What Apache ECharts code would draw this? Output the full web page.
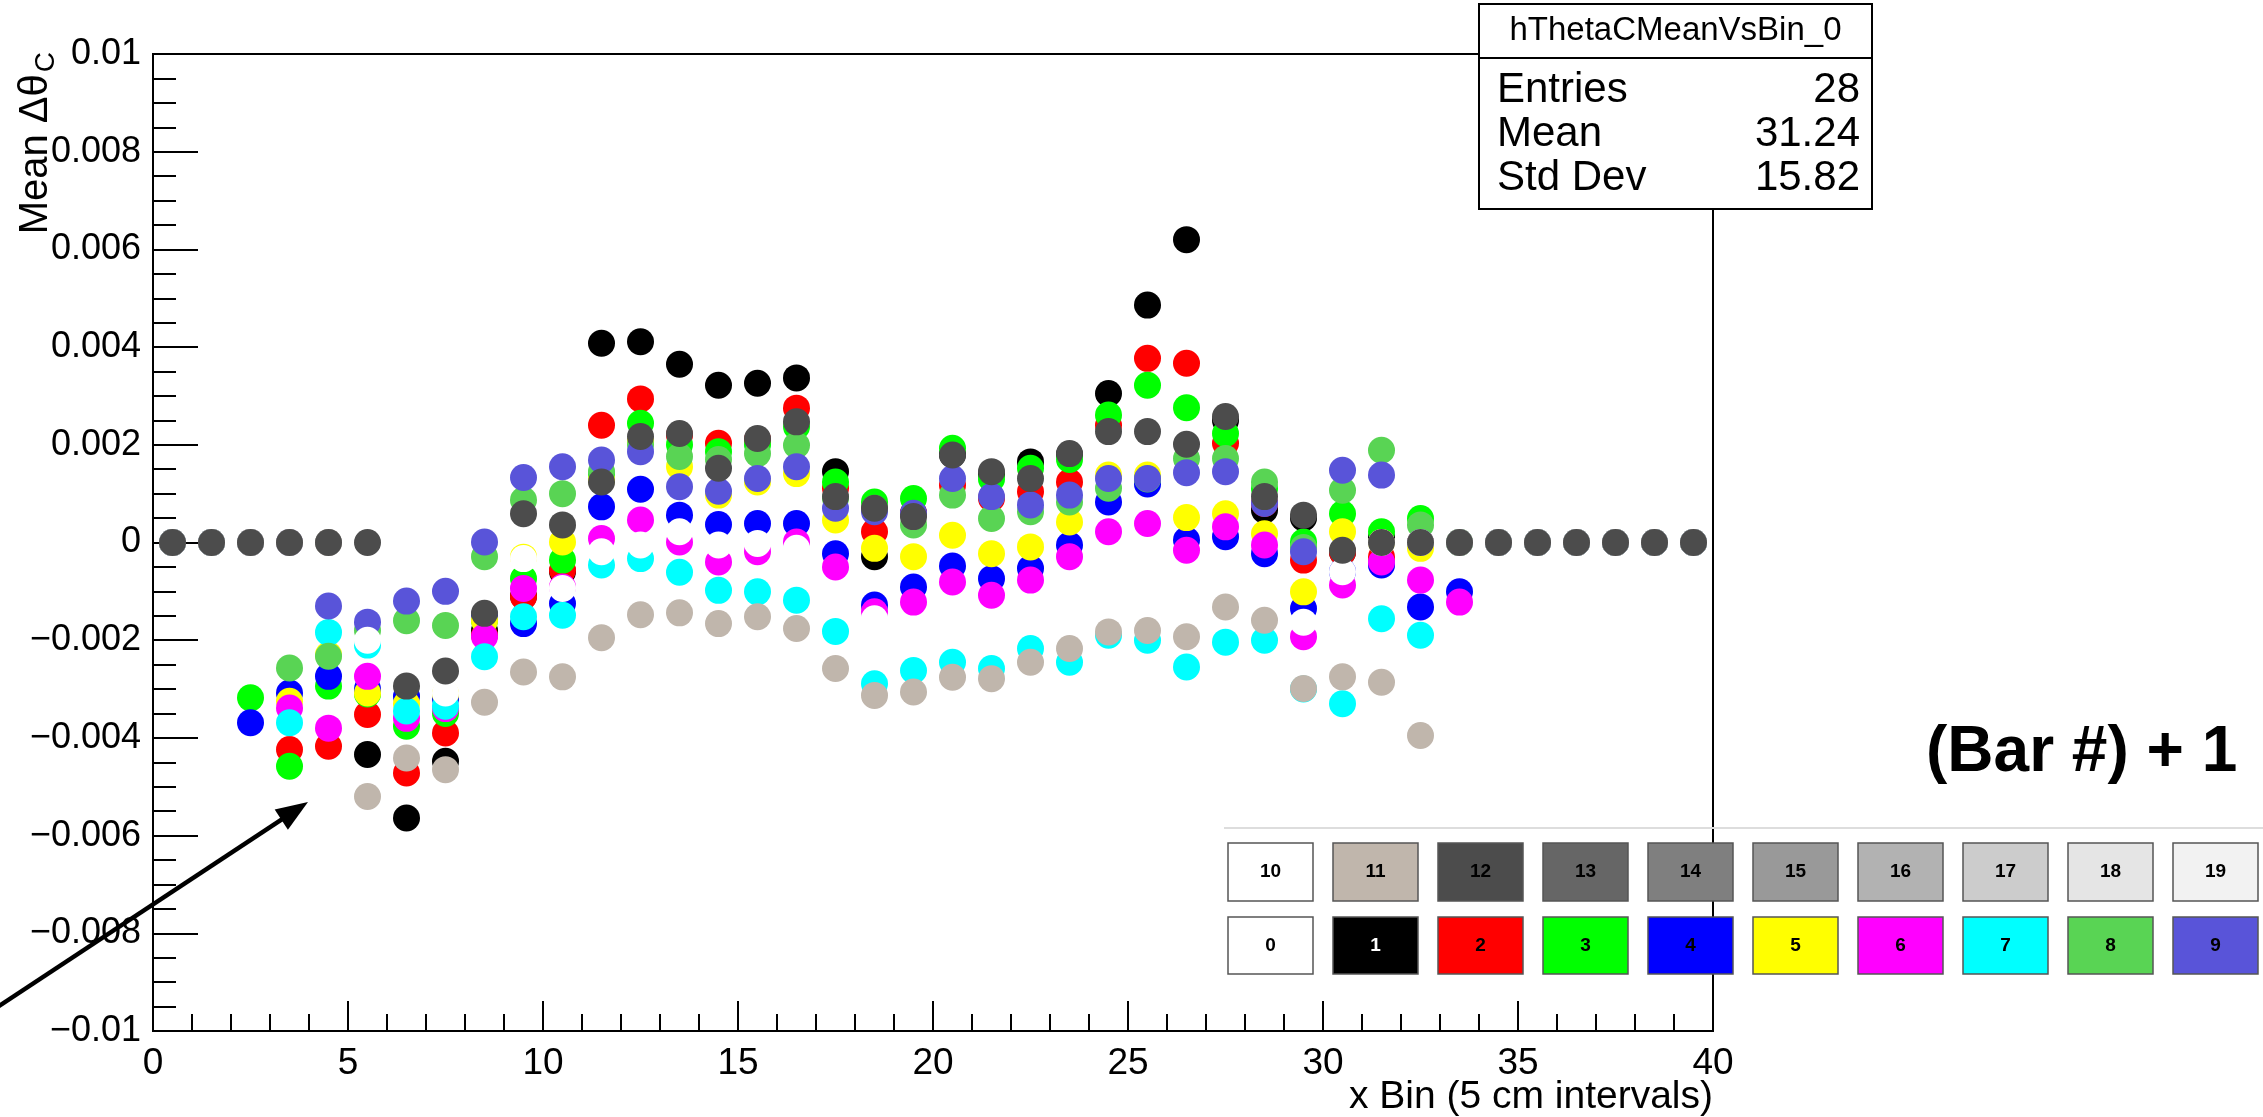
<!DOCTYPE html>
<html>
<head>
<meta charset="utf-8">
<script src="https://cdn.jsdelivr.net/npm/echarts@6/dist/echarts.min.js"></script>
<style>
html,body{margin:0;padding:0;background:#fff;}
#c{width:2263px;height:1117px;}
</style>
</head>
<body>
<div id="c"></div>
<script>
// ---- data ----
const xBins = [0.5,1.5,2.5,3.5,4.5,5.5,6.5,7.5,8.5,9.5,10.5,11.5,12.5,13.5,14.5,15.5,16.5,17.5,18.5,19.5,20.5,21.5,22.5,23.5,24.5,25.5,26.5,27.5,28.5,29.5,30.5,31.5,32.5,33.5,34.5,35.5,36.5,37.5,38.5,39.5];

const bar0 = [0,0,0,0,0,-0.00434,-0.00564,-0.00448,-0.0018,-0.0011,-0.0006,0.00408,0.00411,0.00365,0.00322,0.00326,0.00337,0.00145,-0.00029,0.0006,0.0018,0.0014,0.00165,0.0018,0.00305,0.00486,0.0062,0.0025,0.00066,0.0005,-0.0002,0.0001,0,0,0,0,0,0,0,0];
const bar1 = [0,0,0,-0.00424,-0.00417,-0.00352,-0.00472,-0.0039,-0.0019,-0.00111,-0.00057,0.0024,0.00294,0.0022,0.00203,0.0021,0.00275,0.00111,0.00022,0.0006,0.00117,0.0009,0.00104,0.00124,0.0024,0.00377,0.00367,0.00203,0.0008,-0.00036,-0.0002,-0.0003,0,0,0,0,0,0,0,0];
const bar2 = [0,0,-0.00318,-0.00458,-0.00294,-0.0031,-0.00376,-0.0035,-0.0016,-0.00074,-0.00036,0.0014,0.00244,0.002,0.00186,0.002,0.00237,0.00124,0.00083,0.0009,0.00193,0.0013,0.00152,0.0017,0.00261,0.00322,0.00276,0.00223,0.0011,0.00001,0.00059,0.00022,0.00049,0,0,0,0,0,0,0];
const bar3 = [0,0,-0.00369,-0.00308,-0.00274,-0.003,-0.00315,-0.0032,-0.0015,-0.00166,-0.00125,0.00073,0.00109,0.00056,0.00037,0.00039,0.00039,-0.00023,-0.00128,-0.00091,-0.00048,-0.00074,-0.00053,-0.00005,0.00083,0.0012,0.00005,0.00012,-0.00023,-0.00135,-0.0006,-0.00046,-0.00132,-0.00101,0,0,0,0,0,0];
const bar4 = [0,0,0,-0.00325,-0.0023,-0.00308,-0.0033,-0.0031,-0.0016,-0.0003,0.00001,0.00128,0.00206,0.00155,0.00097,0.00124,0.00141,0.00046,-0.00012,-0.00029,0.00015,-0.00023,-0.00009,0.00042,0.00138,0.00138,0.00051,0.00059,0.00018,-0.00101,0.00022,0,-0.00012,0,0,0,0,0,0,0];
const bar5 = [0,0,0,-0.00339,-0.0038,-0.00274,-0.0036,-0.0034,-0.00193,-0.00094,-0.00091,0.00008,0.00046,0.00001,-0.0004,-0.00019,0.00001,-0.0005,-0.00142,-0.00122,-0.00081,-0.00108,-0.00077,-0.00029,0.00022,0.00039,-0.00016,0.00032,-0.00005,-0.00193,-0.00087,-0.0004,-0.00077,-0.00122,0,0,0,0,0,0];
const bar6 = [0,0,0,-0.00369,-0.00184,-0.0021,-0.00345,-0.00335,-0.00234,-0.00152,-0.00149,-0.00046,-0.00033,-0.00061,-0.00098,-0.00101,-0.00118,-0.00182,-0.00289,-0.00262,-0.00245,-0.00258,-0.00217,-0.00245,-0.0019,-0.002,-0.00255,-0.00204,-0.002,-0.003,-0.0033,-0.00156,-0.0019,0,0,0,0,0,0,0];
const bar7 = [0,0,0,-0.00257,-0.00233,-0.0018,-0.0016,-0.0017,-0.00029,0.00087,0.001,0.00145,0.002,0.00176,0.0017,0.00182,0.00199,0.0009,0.0007,0.00036,0.00097,0.00049,0.00063,0.00083,0.00111,0.0013,0.00172,0.00172,0.00124,-0.0001,0.00107,0.00189,0.00036,0,0,0,0,0,0,0];
const bar8 = [0,0,0,0,-0.0013,-0.00163,-0.0012,-0.001,0.00001,0.00133,0.00155,0.00169,0.00186,0.00114,0.00105,0.00131,0.00155,0.0007,0.00063,0.0006,0.00131,0.00094,0.00077,0.00097,0.00131,0.00131,0.00143,0.00145,0.0008,-0.00019,0.00148,0.00138,0,0,0,0,0,0,0,0];
const bar9 = [0,0,0,0,0,-0.002,null,-0.00308,null,-0.00033,-0.00094,-0.00019,-0.00005,0.00022,-0.00005,-0.00002,-0.00012,null,-0.00156,null,null,null,null,null,null,null,null,null,null,-0.00163,-0.0006,0,0,0,0,0,0,0,0,0];
const bar10 = [0,0,0,0,0,-0.0052,-0.00441,-0.00465,-0.00327,-0.00265,-0.00275,-0.00195,-0.00148,-0.00144,-0.00166,-0.00152,-0.00176,-0.00258,-0.00313,-0.00306,-0.00276,-0.00279,-0.00245,-0.00217,-0.00183,-0.0018,-0.00193,-0.00132,-0.00159,-0.00299,-0.00275,-0.00286,-0.00395,0,0,0,0,0,0,0];
const bar11 = [0,0,0,0,0,0,-0.00294,-0.00263,-0.00145,0.00059,0.00036,0.00124,0.00217,0.00223,0.00152,0.00213,0.00247,0.00094,0.0007,0.00053,0.00179,0.00145,0.00131,0.00182,0.00227,0.00227,0.00201,0.00258,0.00094,0.00056,-0.00016,0,0,0,0,0,0,0,0,0];

const barSeries = [bar0,bar1,bar2,bar3,bar4,bar5,bar6,bar7,bar8,bar9,bar10,bar11];

// ROOT colour indices 0..19
const paletteColors = ['#ffffff','#000000','#ff0000','#00ff00','#0000ff','#ffff00','#ff00ff','#00ffff','#59d454','#5954d9',
                       '#ffffff','#c0b6ac','#4c4c4c','#666666','#7f7f7f','#999999','#b2b2b2','#cccccc','#e5e5e5','#f2f2f2'];
const paletteBottom = [0,1,2,3,4,5,6,7,8,9];
const paletteTop = [10,11,12,13,14,15,16,17,18,19];

const yTicks = [-0.01,-0.008,-0.006,-0.004,-0.002,0,0.002,0.004,0.006,0.008,0.01];
const xTicks = [0,5,10,15,20,25,30,35,40];

const statsTitle = 'hThetaCMeanVsBin_0';
const statsRows = [['Entries','28'],['Mean','31.24'],['Std Dev','15.82']];

// ---- chart ----
const FONT = 'Liberation Sans, Arial, Helvetica, sans-serif';
const chart = echarts.init(document.getElementById('c'), null, {renderer:'canvas'});

const G = {left:153, top:54, right:1713, bottom:1031};

const series = barSeries.map((arr, k) => ({
  type:'scatter',
  name:'bar'+k,
  symbol:'circle',
  symbolSize:27,
  silent:true,
  itemStyle:{color:paletteColors[k+1], opacity:1},
  data: xBins.map((x,i)=>[x, arr[i]]).filter(d=>d[1]!==null),
  z: 2+k*0.01
}));

function fmtY(v){
  let s = parseFloat(Number(v).toFixed(5)).toString();
  return s.replace('-', '\u2212');
}

const graphics = [];

// palette pad top line
graphics.push({type:'line', shape:{x1:1224,y1:828,x2:2263,y2:828}, style:{stroke:'#dddddd', lineWidth:2}, z:50});
const boxX0 = 1228, boxStep = 105, boxW = 85;
[[paletteTop,843,58],[paletteBottom,917,57]].forEach(([row,y,h])=>{
  row.forEach((ci,j)=>{
    const x = boxX0 + j*boxStep;
    graphics.push({type:'rect', shape:{x:x,y:y,width:boxW,height:h},
      style:{fill:paletteColors[ci], stroke:'#555555', lineWidth:1.5}, z:51});
    graphics.push({type:'text', x:x+boxW/2, y:y+h/2,
      style:{text:String(ci), fill:(ci===1)?'#ffffff':'#000000', font:'bold 19px '+FONT, textAlign:'center', textVerticalAlign:'middle'}, z:52});
  });
});

// stats box
const SB = {x:1479, y:4, w:393, h:205};
graphics.push({type:'rect', shape:{x:SB.x,y:SB.y,width:SB.w,height:SB.h}, style:{fill:'#ffffff', stroke:'#000', lineWidth:2}, z:60});
graphics.push({type:'line', shape:{x1:SB.x,y1:58,x2:SB.x+SB.w,y2:58}, style:{stroke:'#000', lineWidth:2}, z:61});
graphics.push({type:'text', x:SB.x+SB.w/2, y:31, style:{text:statsTitle, fill:'#000', font:'33px '+FONT, textAlign:'center', textVerticalAlign:'middle'}, z:62});
statsRows.forEach((r,i)=>{
  const yy = 90 + i*44;
  graphics.push({type:'text', x:SB.x+18, y:yy, style:{text:r[0], fill:'#000', font:'42px '+FONT, textAlign:'left', textVerticalAlign:'middle'}, z:62});
  graphics.push({type:'text', x:SB.x+SB.w-12, y:yy, style:{text:r[1], fill:'#000', font:'42px '+FONT, textAlign:'right', textVerticalAlign:'middle'}, z:62});
});

// "(Bar #) + 1"
graphics.push({type:'text', x:1926, y:753, style:{text:'(Bar #) + 1', fill:'#000', font:'bold 64px '+FONT, textAlign:'left', textVerticalAlign:'middle'}, z:62});

// arrow
(function(){
  const x1=-4, y1=1008, x2=308, y2=802;
  const dx=x2-x1, dy=y2-y1, L=Math.hypot(dx,dy), ux=dx/L, uy=dy/L;
  const hl=32, hw=12;
  const bx=x2-ux*hl, by=y2-uy*hl;
  graphics.push({type:'line', shape:{x1:x1,y1:y1,x2:bx+ux*2,y2:by+uy*2}, style:{stroke:'#000', lineWidth:4.5}, z:70});
  graphics.push({type:'polygon', shape:{points:[[x2,y2],[bx-uy*hw,by+ux*hw],[bx+uy*hw,by-ux*hw]]}, style:{fill:'#000'}, z:70});
})();

// y-axis title
graphics.push({type:'text', x:36, y:52, rotation:Math.PI/2,
  style:{text:'{a|Mean \u0394\u03b8}{b|C}', textAlign:'right', textVerticalAlign:'middle',
    rich:{a:{font:'40px '+FONT, fill:'#000', lineHeight:48, verticalAlign:'middle'},
          b:{font:'28px '+FONT, fill:'#000', lineHeight:48, verticalAlign:'bottom', padding:[0,0,0,2]}}}, z:40});

// x-axis title
graphics.push({type:'text', x:1713, y:1097, style:{text:'x Bin (5 cm intervals)', fill:'#000', font:'39px '+FONT, textAlign:'right', textVerticalAlign:'middle'}, z:40});

const option = {
  animation:false,
  backgroundColor:'#ffffff',
  grid:{left:G.left, top:G.top, width:G.right-G.left, height:G.bottom-G.top, show:true, borderColor:'#000', borderWidth:2, backgroundColor:'transparent'},
  xAxis:{
    type:'value', min:xTicks[0], max:xTicks[xTicks.length-1], interval:5,
    axisLine:{show:true, onZero:false, lineStyle:{color:'#000', width:2}},
    axisTick:{show:true, inside:true, length:30, lineStyle:{color:'#000', width:2}},
    minorTick:{show:true, splitNumber:5, length:17, lineStyle:{color:'#000', width:2}},
    splitLine:{show:false},
    axisLabel:{show:true, margin:14, color:'#000', fontSize:37, fontFamily:FONT, showMinLabel:true, showMaxLabel:true}
  },
  yAxis:{
    type:'value', min:yTicks[0], max:yTicks[yTicks.length-1], interval:0.002,
    axisLine:{show:true, onZero:false, lineStyle:{color:'#000', width:2}},
    axisTick:{show:true, inside:true, length:45, lineStyle:{color:'#000', width:2}},
    minorTick:{show:true, splitNumber:4, length:23, lineStyle:{color:'#000', width:2}},
    splitLine:{show:false},
    axisLabel:{show:true, margin:12, color:'#000', fontSize:36, fontFamily:FONT, formatter:fmtY, showMinLabel:true, showMaxLabel:true}
  },
  series: series,
  graphic: graphics
};
chart.setOption(option);
</script>
</body>
</html>
